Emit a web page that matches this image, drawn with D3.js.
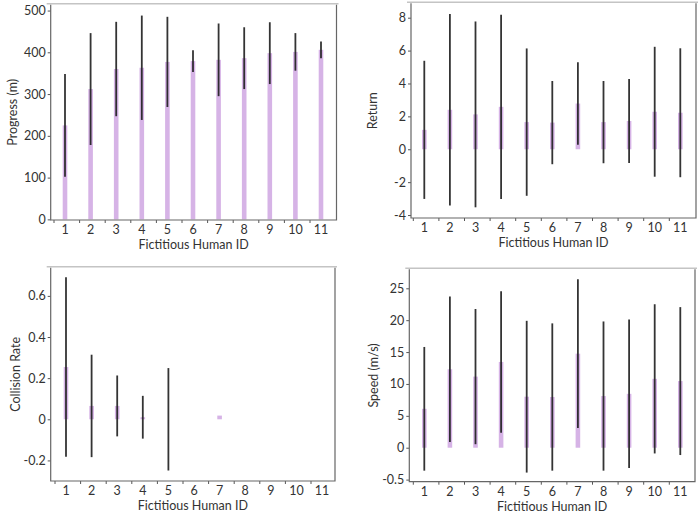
<!DOCTYPE html>
<html>
<head>
<meta charset="utf-8">
<script src="https://cdn.jsdelivr.net/npm/d3@7"></script>
<style>
  body { margin: 0; background: #fff; }
  text { font-family: Lato, "Open Sans", sans-serif; fill: #333; }
</style>
</head>
<body>
<div class="chart"></div>
<script>
const humanIds = ['1', '2', '3', '4', '5', '6', '7', '8', '9', '10', '11'];

// Progress (m)
const progressMean = [225, 312, 360, 363, 377, 379, 382, 386, 398, 401, 406];
const progressErr = [123, 134, 113, 125, 108, 26, 87, 74, 74, 45, 20];
const progressTicks = [0, 100, 200, 300, 400, 500];

// Return
const returnMean = [1.18, 2.4, 2.12, 2.58, 1.65, 1.62, 2.78, 1.65, 1.72, 2.28, 2.22];
const returnErr = [4.2, 5.82, 5.65, 5.6, 4.48, 2.53, 2.51, 2.5, 2.55, 3.95, 3.92];
const returnTicks = [-4, -2, 0, 2, 4, 6, 8];

// Collision Rate
const collisionMean = [0.254, 0.065, 0.065, 0.01, 0, 0, 0.018, 0, 0, 0, 0];
const collisionErr = [0.436, 0.249, 0.148, 0.104, 0.249, 0, 0, 0, 0, 0, 0];
const collisionTicks = [-0.2, 0, 0.2, 0.4, 0.6];
const collisionTickLabels = ['-0.2', '0', '0.2', '0.4', '0.6'];

// Speed (m/s)
const speedMean = [6.1, 12.3, 11.15, 13.45, 8.0, 7.95, 14.75, 8.1, 8.45, 10.8, 10.45];
const speedErr = [9.7, 11.4, 10.6, 11.1, 11.9, 11.55, 11.65, 11.7, 11.65, 11.7, 11.6];
const speedTicks = [-5, 0, 5, 10, 15, 20, 25];
const speedTickLabels = ['-0.5', '0', '5', '10', '15', '20', '25'];

const width = 698, height = 518;
const barColor = '#d6b3e6';

const svg = d3.select('.chart')
    .append('svg')
    .attr('width', width)
    .attr('height', height);

function drawPanel(p) {
    const g = svg.append('g');

    // x: one band per human id, ticks sit on band starts
    const x = d3.scaleBand()
        .domain(humanIds)
        .range([p.bandStart, p.bandStart + 25.6 * humanIds.length]);
    const cx = d => x(d) + 11;

    const y = d3.scaleLinear()
        .domain(p.domain)
        .range([p.bottom, p.top]);

    const data = humanIds.map((id, i) => ({id: id, mean: p.mean[i], err: p.err[i]}));

    // bars
    g.append('g')
        .selectAll('rect')
        .data(data)
        .join('rect')
        .attr('x', d => cx(d.id) - 2.3)
        .attr('width', 4.6)
        .attr('y', d => Math.min(y(d.mean), y(0)))
        .attr('height', d => Math.abs(y(0) - y(d.mean)))
        .attr('fill', barColor);

    // error bars
    g.append('g')
        .selectAll('line')
        .data(data.filter(d => d.err > 0))
        .join('line')
        .attr('x1', d => cx(d.id))
        .attr('x2', d => cx(d.id))
        .attr('y1', d => y(d.mean - d.err))
        .attr('y2', d => y(d.mean + d.err))
        .attr('stroke', '#1e1e1e')
        .attr('stroke-opacity', 0.9)
        .attr('stroke-width', 1.8);

    // y axis
    const yAxis = g.append('g')
        .attr('transform', `translate(${p.left}, 0)`)
        .call(d3.axisLeft(y)
            .tickValues(p.ticks)
            .tickFormat((d, i) => p.tickLabels ? p.tickLabels[i] : d)
            .tickSize(3)
            .tickPadding(2));
    yAxis.select('.domain').remove();
    yAxis.selectAll('.tick line').attr('stroke', '#555');
    yAxis.selectAll('.tick text').attr('font-size', 12.5).attr('fill', '#333');

    // x axis
    const xAxis = g.append('g')
        .attr('transform', `translate(0, ${p.bottom})`)
        .call(d3.axisBottom(x).tickSize(3).tickPadding(2.5));
    xAxis.select('.domain').remove();
    xAxis.selectAll('.tick').attr('transform', d => `translate(${cx(d)}, 0)`);
    xAxis.selectAll('.tick line').attr('x1', -11).attr('x2', -11).attr('stroke', '#555');
    xAxis.selectAll('.tick text').attr('font-size', 12.5).attr('fill', '#333');

    // frame
    g.append('line')
        .attr('x1', p.left - 4).attr('x2', p.right + 2)
        .attr('y1', p.top - 1).attr('y2', p.top - 1)
        .attr('stroke', '#c4c4c4').attr('stroke-width', 1.5);
    g.append('path')
        .attr('d', `M${p.left},${p.top}V${p.bottom}H${p.right}V${p.top}`)
        .attr('fill', 'none')
        .attr('stroke', '#666')
        .attr('stroke-width', 1.2);

    // labels
    g.append('text')
        .attr('x', (p.left + p.right) / 2)
        .attr('y', p.bottom + 29)
        .attr('text-anchor', 'middle')
        .attr('font-size', 12.5)
        .text('Fictitious Human ID');

    g.append('text')
        .attr('transform', `translate(${p.labelX}, ${(p.top + p.bottom) / 2}) rotate(-90)`)
        .attr('text-anchor', 'middle')
        .attr('dominant-baseline', 'central')
        .attr('font-size', 12.5)
        .text(p.label);
}

drawPanel({
    left: 50.7, right: 336.5, top: 4.7, bottom: 220, bandStart: 54,
    domain: [-1.5, 514], ticks: progressTicks,
    mean: progressMean, err: progressErr, label: 'Progress (m)', labelX: 12
});
drawPanel({
    left: 411, right: 696, top: 3.3, bottom: 218, bandStart: 413.3,
    domain: [-4.18, 8.875], ticks: returnTicks,
    mean: returnMean, err: returnErr, label: 'Return', labelX: 372
});
drawPanel({
    left: 50.7, right: 335, top: 267.7, bottom: 481, bandStart: 55,
    domain: [-0.3, 0.737], ticks: collisionTicks, tickLabels: collisionTickLabels,
    mean: collisionMean, err: collisionErr, label: 'Collision Rate', labelX: 15
});
drawPanel({
    left: 409.3, right: 695, top: 269.3, bottom: 481.7, bandStart: 413.3,
    domain: [-5.33, 27.98], ticks: speedTicks, tickLabels: speedTickLabels,
    mean: speedMean, err: speedErr, label: 'Speed (m/s)', labelX: 373
});
</script>
</body>
</html>
